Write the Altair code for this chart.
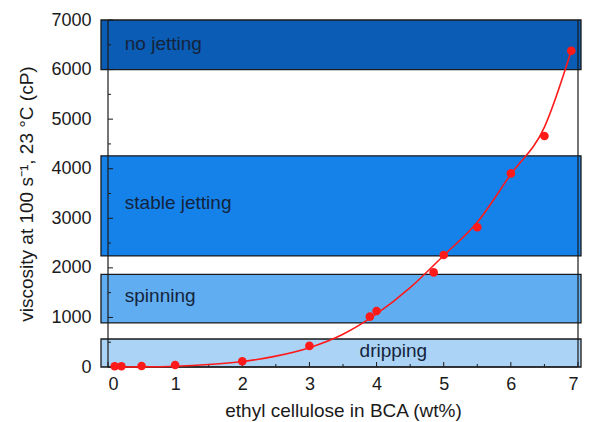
import altair as alt
import pandas as pd

# Regime bands
band_names = ["no jetting", "stable jetting", "spinning", "dripping"]
band_lo = [6000, 2240, 890, 0]
band_hi = [7000, 4260, 1870, 565]
band_colors = ["#0b5cb4", "#1582ea", "#60adf1", "#abd3f6"]

# Band label positions
label_x = [0.25, 0.25, 0.25, 4.25]
label_y = [6520, 3300, 1430, 320]
label_align = ["left", "left", "left", "center"]

# Measured points
pt_x = [0.1, 0.2, 0.5, 1.0, 2.0, 3.0, 3.9, 4.0, 4.85, 5.0, 5.5, 6.0, 6.5, 6.9]
pt_y = [15, 15, 20, 40, 115, 425, 1015, 1130, 1910, 2260, 2820, 3905, 4660, 6380]

# Fitted curve
fit_x = [0.2, 0.5, 1.0, 1.5, 2.0, 2.5, 3.0, 3.5, 4.0, 4.5, 5.0, 5.5, 6.0, 6.5, 6.9]
fit_y = [0, 2, 15, 50, 110, 220, 390, 660, 1070, 1600, 2250, 2920, 3890, 4840, 6380]

# Axis ticks
x_major = [0, 1, 2, 3, 4, 5, 6, 7]
x_minor = [0.5, 1.5, 2.5, 3.5, 4.5, 5.5, 6.5]
y_major = [0, 1000, 2000, 3000, 4000, 5000, 6000, 7000]
y_minor = [500, 1500, 2500, 3500, 4500, 5500, 6500]

W, H = 470, 347
FONT = "Liberation Sans"

bands = pd.DataFrame({"name": band_names, "lo": band_lo, "hi": band_hi, "color": band_colors})
labels = pd.DataFrame({"name": band_names, "x": label_x, "y": label_y, "align": label_align})
pts = pd.DataFrame({"x": pt_x, "y": pt_y})
fit = pd.DataFrame({"x": fit_x, "y": fit_y})

xs = alt.Scale(domain=[0, 7], nice=False, zero=False)
ys = alt.Scale(domain=[0, 7000], nice=False)

xaxis = alt.Axis(values=x_major, format="d", title="ethyl cellulose in BCA (wt%)", ticks=False,
                 grid=False, labelPadding=8, titlePadding=8, domain=False)
yaxis = alt.Axis(values=y_major, format="d", title="viscosity at 100 s⁻¹, 23 °C (cP)", ticks=False,
                 grid=False, labelPadding=17, titlePadding=14, domain=False)

# Axis-carrying (invisible) layer
base = alt.Chart(pts).mark_point(opacity=0).encode(
    x=alt.X("x:Q", scale=xs, axis=xaxis),
    y=alt.Y("y:Q", scale=ys, axis=yaxis),
)

band_layer = alt.Chart(bands).mark_rect(clip=False, stroke="#1a1a1a", strokeWidth=1.3).encode(
    x=alt.value(-7),
    x2=alt.value(W + 3),
    y=alt.Y("lo:Q", scale=ys),
    y2="hi:Q",
    color=alt.Color("color:N", scale=None),
)

text_left = alt.Chart(labels[labels["align"] == "left"]).mark_text(
    align="left", baseline="middle", font=FONT, fontSize=19, color="#14243c"
).encode(x=alt.X("x:Q", scale=xs), y=alt.Y("y:Q", scale=ys), text="name:N")

text_center = alt.Chart(labels[labels["align"] == "center"]).mark_text(
    align="center", baseline="middle", font=FONT, fontSize=19, color="#14243c"
).encode(x=alt.X("x:Q", scale=xs), y=alt.Y("y:Q", scale=ys), text="name:N")

frame_v = alt.Chart(pd.DataFrame({"x": [0, 7]})).mark_rule(color="#1a1a1a", strokeWidth=1.2).encode(
    x=alt.X("x:Q", scale=xs), y=alt.value(0), y2=alt.value(H))
frame_h = alt.Chart(pd.DataFrame({"y": [0]})).mark_rule(color="#1a1a1a", strokeWidth=1.2).encode(
    y=alt.Y("y:Q", scale=ys), x=alt.value(0), x2=alt.value(W))

xt_major = alt.Chart(pd.DataFrame({"x": x_major})).mark_rule(color="#1a1a1a").encode(
    x=alt.X("x:Q", scale=xs), y=alt.value(H), y2=alt.value(H - 5))
xt_minor = alt.Chart(pd.DataFrame({"x": x_minor})).mark_rule(color="#1a1a1a").encode(
    x=alt.X("x:Q", scale=xs), y=alt.value(H), y2=alt.value(H - 3))
yt_major = alt.Chart(pd.DataFrame({"y": y_major})).mark_rule(color="#1a1a1a").encode(
    y=alt.Y("y:Q", scale=ys), x=alt.value(0), x2=alt.value(5))
yt_minor = alt.Chart(pd.DataFrame({"y": y_minor})).mark_rule(color="#1a1a1a").encode(
    y=alt.Y("y:Q", scale=ys), x=alt.value(0), x2=alt.value(3))

curve = alt.Chart(fit).mark_line(color="#ff1a1a", strokeWidth=1.6, interpolate="monotone").encode(
    x=alt.X("x:Q", scale=xs), y=alt.Y("y:Q", scale=ys))
points = alt.Chart(pts).mark_circle(color="#ff1a1a", opacity=1, size=75).encode(
    x=alt.X("x:Q", scale=xs), y=alt.Y("y:Q", scale=ys))

chart = alt.layer(
    base, band_layer, text_left, text_center, frame_v, frame_h,
    xt_major, xt_minor, yt_major, yt_minor, curve, points
).properties(
    width=W, height=H,
    autosize=alt.AutoSizeParams(type="none"),
    padding={"left": 100, "top": 12, "right": 4, "bottom": 55},
).configure_view(stroke=None).configure_axis(
    labelFont=FONT, titleFont=FONT, labelFontSize=18, titleFontSize=19,
    labelColor="#1a1a1a", titleColor="#1a1a1a", titleFontWeight="normal",
)

chart.save("out.html", embed_options={"renderer": "svg", "actions": False})
